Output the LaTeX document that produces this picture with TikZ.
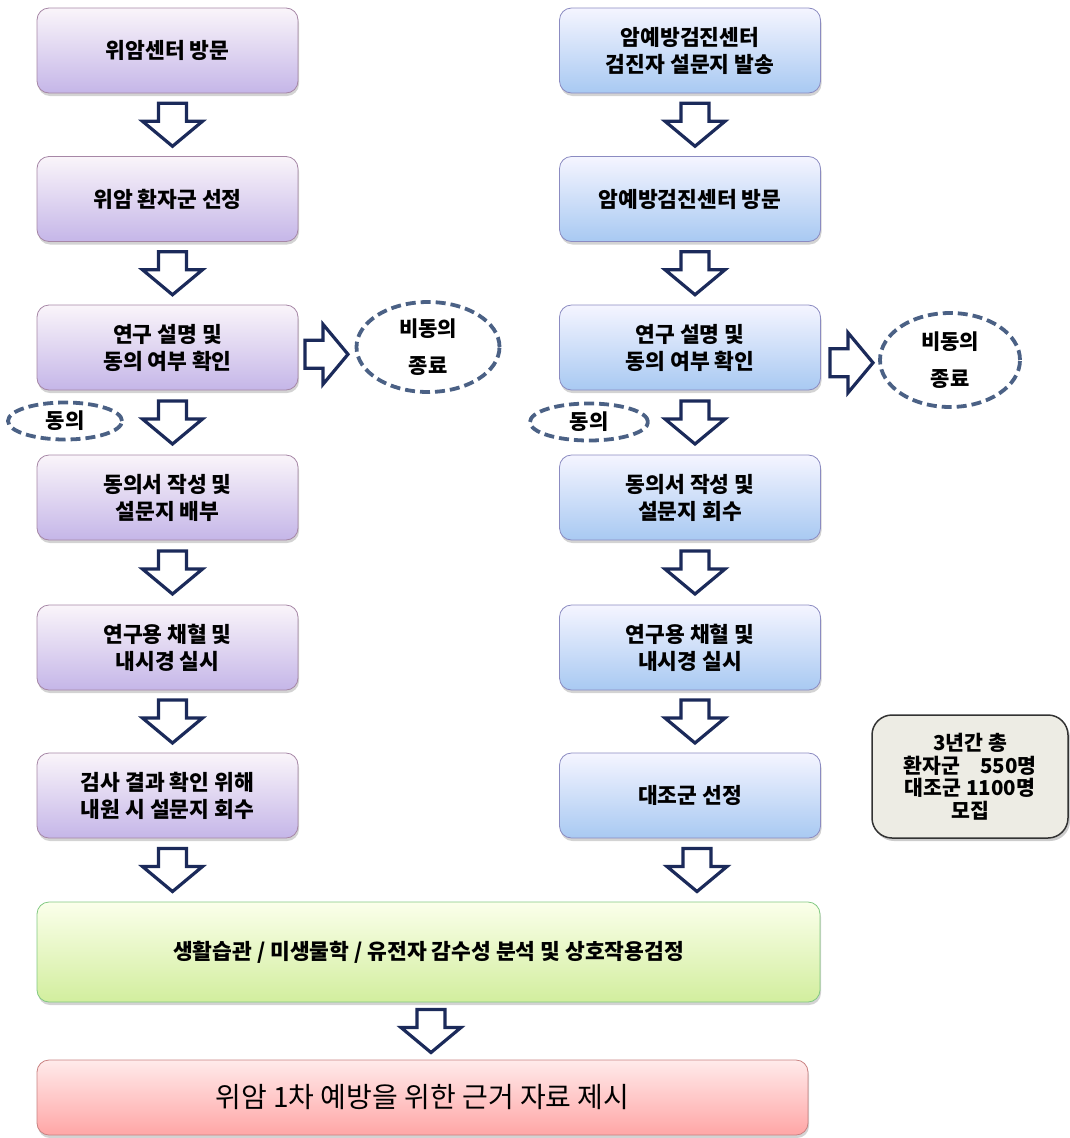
\documentclass[tikz,border=0pt]{standalone}
\usepackage{fontspec}
\setmainfont{Noto Sans CJK KR}
\usetikzlibrary{shadows,calc,shapes.geometric}
\definecolor{navy}{HTML}{1B2A5A}
\definecolor{dashblue}{HTML}{4B6185}
\definecolor{lilac}{HTML}{C5B6E8}
\definecolor{skyblue}{HTML}{A8C9F2}
\definecolor{limegreen}{HTML}{D2EE9E}
\definecolor{notegray}{HTML}{EDECE4}
\tikzset{
  flowbox/.style={
    draw,
    line width=0.8pt,
    rounded corners=12pt,
    minimum width=261pt,
    minimum height=85pt,
    align=center,
    font=\fontsize{21.5}{27}\selectfont\bfseries,
    drop shadow={shadow xshift=1pt, shadow yshift=-3pt, opacity=.35}
  },
  leftbox/.style={
    flowbox,
    draw=violet!35!gray!70,
    top color=violet!4,
    bottom color=lilac
  },
  rightbox/.style={
    flowbox,
    draw=blue!30!gray!70,
    top color=blue!4,
    bottom color=skyblue
  },
  refuse/.style={
    shape = ellipse,
    draw = dashblue,
    line width = 3.8pt,
    dash pattern = on 10pt off 5pt,
    align = center,
    inner sep = 0pt,
    font = \fontsize{21}{37}\selectfont\bfseries
  },
  blockarrow/.style={
    draw = navy,
    fill = white,
    line width = 3.2pt,
    line join = miter
  },
  darr/.pic={
    \draw[blockarrow] (-14,-21.5) -- (14,-21.5) -- (14,-3.5) -- (30,-3.5)
      -- (0,21.5) -- (-30,-3.5) -- (-14,-3.5) -- cycle;
  }
}

\begin{document}
\begin{tikzpicture}[x=1pt,y=-1pt]
        \useasboundingbox (0,0) rectangle (1069,1138);
        % left column
        \node[leftbox] (l1) at (167.5,50.5) {위암센터 방문};
        \node[leftbox] (l2) at (167.5,199) {위암 환자군 선정};
        \node[leftbox] (l3) at (167.5,347.5) {연구 설명 및\\동의 여부 확인};
        \node[leftbox] (l4) at (167.5,497.5) {동의서 작성 및\\설문지 배부};
        \node[leftbox] (l5) at (167.5,647.5) {연구용 채혈 및\\내시경 실시};
        \node[leftbox] (l6) at (167.5,795.5) {검사 결과 확인 위해\\내원 시 설문지 회수};
        % right column
        \node[rightbox] (r1) at (690,50.5) {암예방검진센터\\검진자 설문지 발송};
        \node[rightbox] (r2) at (690,199) {암예방검진센터 방문};
        \node[rightbox] (r3) at (690,347.5) {연구 설명 및\\동의 여부 확인};
        \node[rightbox] (r4) at (690,497.5) {동의서 작성 및\\설문지 회수};
        \node[rightbox] (r5) at (690,647.5) {연구용 채혈 및\\내시경 실시};
        \node[rightbox] (r6) at (690,795.5) {대조군 선정};
        % common part
        \node[flowbox, draw=green!40!gray!70, top color=green!20!yellow!8,
              bottom color=limegreen, minimum width=783pt,
              minimum height=100pt] (analysis) at (428.5,952)
              {생활습관 / 미생물학 / 유전자 감수성 분석 및 상호작용검정};
        \node[flowbox, draw=red!40!gray!70, top color=red!8,
              bottom color=red!35, minimum width=771pt, minimum height=75pt,
              font=\fontsize{28}{32}\selectfont] (result) at (422.5,1097.5)
              {위암 1차 예방을 위한 근거 자료 제시};
        % refusal / consent
        \node[refuse, minimum width=143pt, minimum height=90pt] (lno) at (428,347) {비동의\\종료};
        \node[refuse, minimum width=140pt, minimum height=94pt] (rno) at (950,360) {비동의\\종료};
        \node[refuse, minimum width=114pt, minimum height=37pt] (lyes) at (65,421) {동의};
        \node[refuse, minimum width=118pt, minimum height=37pt] (ryes) at (589,422) {동의};
        % note
        \node[draw=black!80, line width=1.5pt, fill=notegray,
              rounded corners=20pt, minimum width=196pt, minimum height=123pt,
              align=center, font=\fontsize{20.5}{22.5}\selectfont\bfseries,
              drop shadow={shadow xshift=2pt, shadow yshift=-3pt, opacity=.4}]
              (note) at (970,776.5)
              {3년간 총\\환자군\hspace{1em}550명\\대조군 1100명\\모집};
        % arrows
        \foreach \a/\b in {l1/l2,l2/l3,l3/l4,l4/l5,l5/l6,r1/r2,r2/r3,r3/r4,r4/r5,r5/r6}
            \pic at ($(\a.south)!.5!(\b.north)+(5,0)$) {darr};
        \pic at ($(l6.south)!.5!(analysis.north -| l6.south)+(5,0)$) {darr};
        \pic at ($(r6.south)!.5!(analysis.north -| r6.south)+(7,0)$) {darr};
        \pic at ($(analysis.south)!.5!(result.north)+(5.5,0)$) {darr};
        \pic[rotate=90] at ($(l3.east)!.5!(lno.west)+(0,7)$) {darr};
        \pic[rotate=90] at ($(r3.east)!.5!(rno.west)+(2,9)$) {darr};
    \end{tikzpicture}
\end{document}
